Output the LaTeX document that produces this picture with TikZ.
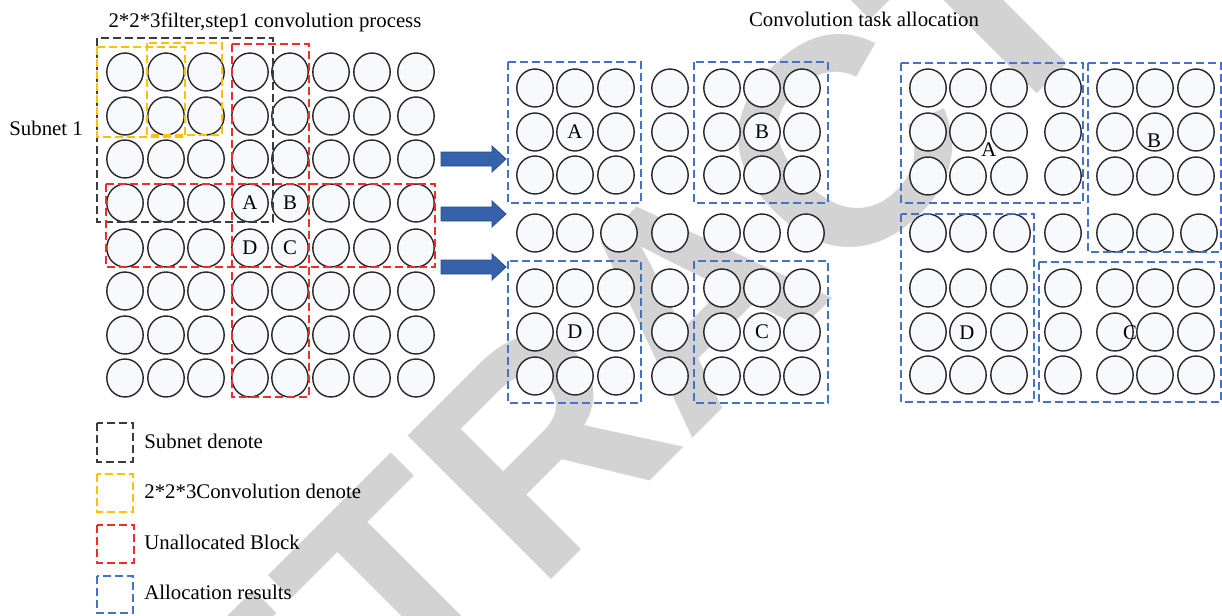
\documentclass[tikz,border=0pt]{standalone}
\usepackage{fontspec}
\setmainfont{Liberation Serif}
\newfontfamily\wmfont{Liberation Sans}
\usepackage{tikz}
\usetikzlibrary{shapes.geometric}
\usepackage{xcolor}
\definecolor{cellfill}{HTML}{F7F9FD}
\definecolor{cellline}{HTML}{262626}
\definecolor{subnetc}{HTML}{3B3B3B}
\definecolor{convc}{HTML}{FFC000}
\definecolor{blockc}{HTML}{F22B2B}
\definecolor{allocc}{HTML}{4472C4}
\definecolor{arrowc}{HTML}{3562AA}
\definecolor{wmgray}{HTML}{D3D3D3}

\begin{document}
\begin{tikzpicture}[x=.5pt,y=-.5pt,font=\fontsize{10.4}{12}\selectfont,
    cell/.style={ellipse,draw=cellline,line width=.7pt,fill=cellfill,
      minimum width=18.2pt,minimum height=19pt,inner sep=0pt},
    box/.style={dash pattern=on 4pt off 2pt,line width=.6pt},
    tag/.style={inner sep=0pt},
    blockarrow/.style={draw=arrowc!80!black,fill=arrowc,line width=.4pt}]
  \useasboundingbox (0,0) rectangle (1222,616);
  \begin{scope}
    \clip (0,0) rectangle (1222,616);
    \node[anchor=base,rotate=45,inner sep=0pt,text=wmgray,
      font=\wmfont\bfseries\fontsize{147.5}{147.5}\selectfont] (wm) at (763,368) {RETRACTED};
  \end{scope}

  \node[tag,anchor=base] (ltitle) at (265,27) {2*2*3filter,step1 convolution process};
  \node[tag,anchor=base] (rtitle) at (864,26) {Convolution task allocation};
  \node[tag,anchor=base west] (subnet) at (9,135) {Subnet 1};

  \foreach \y [count=\r] in {72,116,159,203,248,291,335,378}
    \foreach \x [count=\c] in {125,166,206,250,290,331,372,416}
      \node[cell] (l-\r-\c) at (\x,\y) {};

  \foreach \y/\r in {88/1,132/2,175/3,288/5,332/6,376/7}
    \foreach \x [count=\c] in {535,575,616,670,722,762,802}
      \node[cell] (m-\r-\c) at (\x,\y) {};
  \foreach \x [count=\c] in {535,575,619,670,722,762,806}
    \node[cell] (m-4-\c) at (\x,233) {};

  \foreach \y/\r in {88/1,132/2,176/3,288/5,332/6,375/7}
    \foreach \x [count=\c] in {928,968,1009,1063,1115,1155,1196}
      \node[cell] (r-\r-\c) at (\x,\y) {};
  \foreach \x [count=\c] in {928,968,1012,1063,1115,1155,1199}
    \node[cell] (r-4-\c) at (\x,233) {};

  \draw[box,subnetc] (97,38) rectangle (273,222);
  \draw[box,convc] (97,47) rectangle (185,137);
  \draw[box,convc] (147,43) rectangle (222,135);
  \draw[box,blockc] (232,44) rectangle (309,397);
  \draw[box,blockc] (106,184) rectangle (435,267);

  \draw[box,allocc] (508,62) rectangle (641,203);
  \draw[box,allocc] (694,62) rectangle (828,203);
  \draw[box,allocc] (508,261) rectangle (641,403);
  \draw[box,allocc] (694,261) rectangle (828,403);

  \draw[box,allocc] (901,63) rectangle (1083,203);
  \draw[box,allocc] (1088,63) rectangle (1221,252);
  \draw[box,allocc] (901,214) rectangle (1034,402);
  \draw[box,allocc] (1039,262) rectangle (1221,402);

  \node[tag] (lA) at (l-4-4) {A};
  \node[tag] (lB) at (l-4-5) {B};
  \node[tag] (lD) at (l-5-4) {D};
  \node[tag] (lC) at (l-5-5) {C};
  \node[tag] (mA) at (m-2-2) {A};
  \node[tag] (mB) at (m-2-6) {B};
  \node[tag] (mD) at (m-6-2) {D};
  \node[tag] (mC) at (m-6-6) {C};
  \node[tag] (rA) at (989,150) {A};
  \node[tag] (rB) at (1154,141) {B};
  \node[tag] (rD) at (967,333) {D};
  \node[tag] (rC) at (1130,333) {C};

  \foreach \y in {159,214,267}
    \draw[blockarrow] (441,\y-7) -- (492,\y-7) -- (492,\y-13) -- (506,\y)
      -- (492,\y+13) -- (492,\y+7) -- (441,\y+7) -- cycle;

  \draw[box,subnetc] (97,423) rectangle (133,462);
  \draw[box,convc] (97,474) rectangle (133,512);
  \draw[box,blockc] (97,525) rectangle (134,563);
  \draw[box,allocc] (97,576) rectangle (133,613);
  \node[tag,anchor=base west] (leg1) at (144,448) {Subnet denote};
  \node[tag,anchor=base west] (leg2) at (144,498) {2*2*3Convolution denote};
  \node[tag,anchor=base west] (leg3) at (144,549) {Unallocated Block};
  \node[tag,anchor=base west] (leg4) at (144,599) {Allocation results};
\end{tikzpicture}
\end{document}
